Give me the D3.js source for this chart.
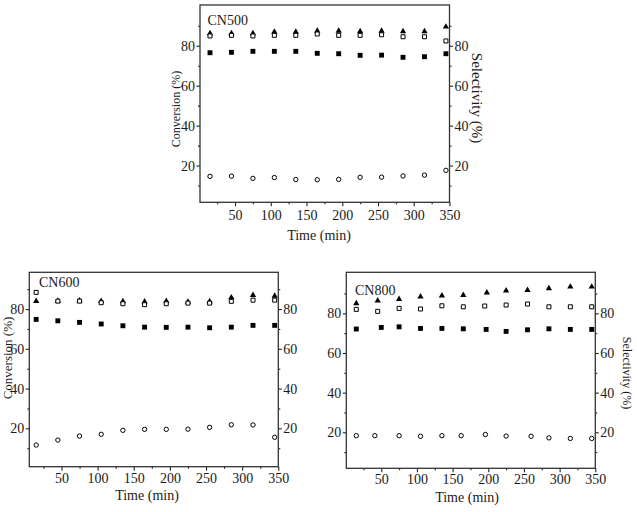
<!DOCTYPE html>
<html>
<head>
<meta charset="utf-8">
<script src="https://cdn.jsdelivr.net/npm/d3@7"></script>
<style>
  body { margin: 0; background: #fff; }
  svg text { font-family: "Liberation Serif", "Times New Roman", serif; fill: #1a1a1a; }
</style>
</head>
<body>
<svg id="chart" width="637" height="512"></svg>
<script>
// sampling times (min)
const timeMin = [15, 45, 75, 105, 135, 165, 195, 225, 255, 285, 315, 345];
const xMajor = [50, 100, 150, 200, 250, 300, 350];
const xMinor = [25, 75, 125, 175, 225, 275, 325];
const yMajor = [20, 40, 60, 80];
const yMinor = [10, 30, 50, 70, 90];

// CN500
const cn500Triangle = [86.2, 86.2, 86.2, 86.9, 86.9, 87.4, 87.4, 87.2, 87.4, 87.2, 87.2, 89.5];
const cn500OpenSquare = [84.9, 85.2, 84.9, 85.2, 85.2, 85.9, 85.2, 85.2, 85.5, 84.5, 84.5, 82.4];
const cn500FilledSquare = [76.5, 76.7, 77.2, 77.2, 77.2, 76.2, 76.0, 75.2, 75.3, 74.2, 74.5, 76.0];
const cn500Circle = [14.6, 14.7, 13.6, 14.0, 13.0, 12.9, 13.1, 14.1, 14.2, 14.8, 15.2, 17.6];

// CN600
const cn600Triangle = [84.0, 84.1, 84.2, 84.0, 83.9, 83.7, 84.0, 83.6, 83.9, 85.8, 87.0, 86.6];
const cn600OpenSquare = [88.4, 84.0, 84.0, 83.2, 82.7, 82.2, 82.7, 83.0, 83.0, 83.9, 84.5, 84.5];
const cn600FilledSquare = [74.8, 74.1, 73.3, 72.5, 71.6, 70.9, 70.8, 70.9, 70.6, 70.9, 71.8, 71.8];
const cn600Circle = [11.6, 14.1, 16.1, 17.0, 19.0, 19.5, 19.5, 19.6, 20.5, 21.8, 21.7, 15.5];

// CN800 (some points were taken slightly off the regular times)
const cn800TriangleTime = [15, 45, 75, 105, 135, 165, 198, 225, 255, 285, 315, 345];
const cn800Triangle = [85.0, 86.4, 87.2, 88.4, 88.9, 89.2, 90.4, 91.4, 91.7, 92.6, 93.4, 93.4];
const cn800OpenSquare = [82.0, 81.0, 82.5, 82.2, 83.8, 83.3, 83.7, 84.2, 84.7, 83.3, 83.3, 83.3];
const cn800FilledSquareTime = [15, 50, 75, 105, 135, 165, 197, 225, 255, 285, 315, 345];
const cn800FilledSquare = [72.1, 72.9, 73.2, 72.4, 72.4, 72.2, 71.9, 70.9, 71.7, 72.2, 71.9, 71.9];
const cn800CircleTime = [15, 41, 75, 105, 135, 162, 196, 225, 260, 285, 315, 345];
const cn800Circle = [18.3, 18.3, 18.3, 18.0, 18.3, 18.3, 18.9, 18.1, 18.0, 17.2, 16.9, 16.9];

const markStyles = {
  triangle:     { type: d3.symbolTriangle, size: 17, fill: "#000", stroke: "none" },
  openSquare:   { type: d3.symbolSquare,   size: 16, fill: "#fff", stroke: "#000" },
  filledSquare: { type: d3.symbolSquare,   size: 24, fill: "#000", stroke: "none" },
  circle:       { type: d3.symbolCircle,   size: 15, fill: "#fff", stroke: "#000" }
};

const panels = [
  {
    name: "CN500", left: 200, right: 449.5, top: 5, bottom: 202.3,
    xDomain: [1, 350], yDomain: [1.6, 100.4], xPad: 4,
    nameAt: [207.5, 25],
    conv: { x: 180, y: 109, size: 12 },
    sel: { x: 471.5, y: 98, size: 15 },
    time: { x: 319, y: 240 },
    series: [
      { t: timeMin, v: cn500Triangle, mark: "triangle" },
      { t: timeMin, v: cn500OpenSquare, mark: "openSquare" },
      { t: timeMin, v: cn500FilledSquare, mark: "filledSquare" },
      { t: timeMin, v: cn500Circle, mark: "circle" }
    ]
  },
  {
    name: "CN600", left: 29.3, right: 278.3, top: 272.3, bottom: 466.7,
    xDomain: [5.5, 350], yDomain: [0.7, 98.5], xPad: 2,
    nameAt: [39, 286.7],
    conv: { x: 12, y: 358, size: 13 },
    sel: null,
    time: { x: 147, y: 500 },
    series: [
      { t: timeMin, v: cn600Triangle, mark: "triangle" },
      { t: timeMin, v: cn600OpenSquare, mark: "openSquare" },
      { t: timeMin, v: cn600FilledSquare, mark: "filledSquare" },
      { t: timeMin, v: cn600Circle, mark: "circle" }
    ]
  },
  {
    name: "CN800", left: 346.3, right: 595.3, top: 272.3, bottom: 468.3,
    xDomain: [1, 350], yDomain: [1.85, 100.7], xPad: 2,
    nameAt: [355, 295],
    conv: null,
    sel: { x: 623, y: 373, size: 12 },
    time: { x: 467, y: 502 },
    series: [
      { t: cn800TriangleTime, v: cn800Triangle, mark: "triangle" },
      { t: timeMin, v: cn800OpenSquare, mark: "openSquare" },
      { t: cn800FilledSquareTime, v: cn800FilledSquare, mark: "filledSquare" },
      { t: cn800CircleTime, v: cn800Circle, mark: "circle" }
    ]
  }
];

const svg = d3.select("#chart");

function styleAxis(g) {
  g.attr("font-family", '"Liberation Serif", serif')
   .attr("font-size", 14)
   .attr("color", "#222");
  g.select(".domain").remove();
  g.selectAll(".tick line").attr("stroke-width", 1.1);
}

function drawPanel(p) {
  const x = d3.scaleLinear().domain(p.xDomain).range([p.left, p.right]);
  const y = d3.scaleLinear().domain(p.yDomain).range([p.bottom, p.top]);
  const g = svg.append("g").attr("class", p.name);

  // bottom axis, major + minor
  g.append("g").attr("transform", `translate(0,${p.bottom})`)
    .call(d3.axisBottom(x).tickValues(xMajor).tickSize(4).tickPadding(p.xPad))
    .call(styleAxis);
  g.append("g").attr("transform", `translate(0,${p.bottom})`)
    .call(d3.axisBottom(x).tickValues(xMinor).tickSize(2).tickFormat(""))
    .call(styleAxis);

  // left + right axes
  g.append("g").attr("transform", `translate(${p.left},0)`)
    .call(d3.axisLeft(y).tickValues(yMajor).tickSize(3.5).tickPadding(1.5))
    .call(styleAxis);
  g.append("g").attr("transform", `translate(${p.left},0)`)
    .call(d3.axisLeft(y).tickValues(yMinor).tickSize(2).tickFormat(""))
    .call(styleAxis);
  g.append("g").attr("transform", `translate(${p.right},0)`)
    .call(d3.axisRight(y).tickValues(yMajor).tickSize(3.5).tickPadding(1.5))
    .call(styleAxis);
  g.append("g").attr("transform", `translate(${p.right},0)`)
    .call(d3.axisRight(y).tickValues(yMinor).tickSize(2).tickFormat(""))
    .call(styleAxis);

  // markers
  p.series.forEach(s => {
    const st = markStyles[s.mark];
    const sym = d3.symbol().type(st.type).size(st.size);
    g.append("g").selectAll("path")
      .data(s.v.map((v, i) => ({ t: s.t[i], v: v })))
      .join("path")
      .attr("d", sym)
      .attr("transform", d => `translate(${x(d.t)},${y(d.v)})`)
      .attr("fill", st.fill)
      .attr("stroke", st.stroke)
      .attr("stroke-width", 1);
  });

  // frame
  g.append("rect")
    .attr("x", p.left).attr("y", p.top)
    .attr("width", p.right - p.left).attr("height", p.bottom - p.top)
    .attr("fill", "none").attr("stroke", "#333").attr("stroke-width", 1.3);

  g.append("text")
    .attr("x", p.nameAt[0]).attr("y", p.nameAt[1])
    .attr("font-size", 14)
    .text(p.name);

  g.append("text")
    .attr("x", p.time.x).attr("y", p.time.y)
    .attr("text-anchor", "middle")
    .attr("font-size", 14)
    .text("Time (min)");

  if (p.conv) {
    g.append("text")
      .attr("transform", `translate(${p.conv.x},${p.conv.y}) rotate(-90)`)
      .attr("text-anchor", "middle")
      .attr("font-size", p.conv.size)
      .text("Conversion (%)");
  }
  if (p.sel) {
    g.append("text")
      .attr("transform", `translate(${p.sel.x},${p.sel.y}) rotate(90)`)
      .attr("text-anchor", "middle")
      .attr("font-size", p.sel.size)
      .text("Selectivity (%)");
  }
}

panels.forEach(drawPanel);
</script>
</body>
</html>
